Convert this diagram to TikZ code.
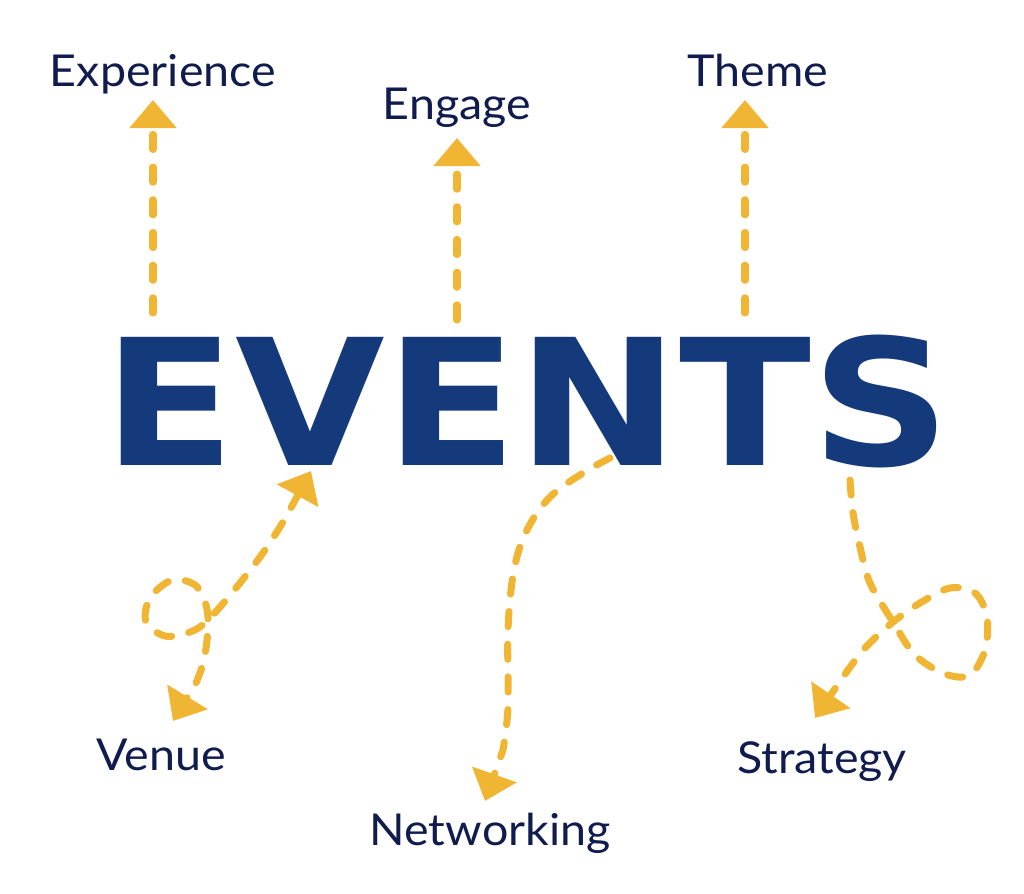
\documentclass[tikz,border=0pt]{standalone}
\usepackage{fontspec}
\setmainfont{Lato}
\newfontfamily\bigfont{DejaVu Sans}
\usepackage{tikz}
\usetikzlibrary{arrows.meta}
\definecolor{evblue}{RGB}{20,58,124}
\definecolor{labnavy}{RGB}{16,28,78}
\definecolor{arrgold}{RGB}{241,181,52}
\tikzset{
  lab/.style={text=labnavy, font=\fontsize{12.5}{14}\selectfont, inner sep=0pt, anchor=base, xscale=1.06},
  flow/.style={arrgold, line width=2pt, line cap=round, dash pattern=on 4.3pt off 5pt,
    -{Triangle[width=13pt,length=8pt]}},
  twoway/.style={flow, {Triangle[width=13pt,length=8pt]}-{Triangle[width=13pt,length=8pt]}},
}

\begin{document}
\begin{tikzpicture}[x=0.01cm, y=-0.01cm]
\useasboundingbox (0,0) rectangle (1024,894);

% the big word
\node [text=evblue, inner sep=0pt, anchor=base, xscale=1.1]
  (word) at (527,465) {\fontsize{50}{50}\bigfont\bfseries EVENTS};

% labels
\node[lab] (exp) at (163,87) {Experience};
\node[lab] (eng) at (457,120) {Engage};
\node[lab] (thm) at (758,87) {Theme};
\node[lab] (ven) at (161,770) {Venue};
\node[lab] (net) at (490,845) {Networking};
\node[lab] (str) at (822,773) {Strategy};

% free ends of the arrows
\coordinate (e1) at (153,313);
\coordinate (e2) at (457,320);
\coordinate (e3) at (745,313);
\coordinate (v1) at (311,471);
\coordinate (v2) at (173,721);
\coordinate (n1) at (610,458);
\coordinate (n2) at (485,801);
\coordinate (s1) at (850,480);
\coordinate (s2) at (815,718);

% straight arrows up
\draw [flow] (e1) -- (e1 |- 0,100);
\draw [flow] (e2) -- (e2 |- 0,138);
\draw [flow] (e3) -- (e3 |- 0,100);

% curly arrows down
\draw [twoway] plot [smooth, tension=0.55] coordinates {(v1) (273,538) (240,583) (208,620)
  (190,632) (165,636) (146,622) (150,598) (172,580) (195,585) (206,605) (208,628)
  (204,660) (196,683)} -- (v2);
\draw [flow] plot [smooth, tension=0.6] coordinates {(n1) (583,473) (550,497) (527,530)
  (514,570) (508,630) (508,707) (503,750)} -- (n2);
\draw [flow] plot [smooth, tension=0.55] coordinates {(s1) (853,513) (860,547) (870,583)
  (893,622) (915,655) (945,674) (970,675) (985,650) (987,617) (975,593) (950,588)
  (920,603) (893,622) (865,648) (843,677)} -- (s2);
\end{tikzpicture}
\end{document}
